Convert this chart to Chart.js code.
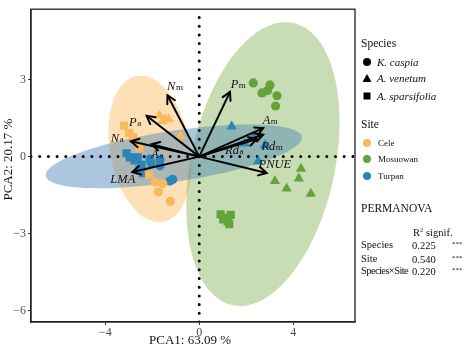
<!DOCTYPE html>
<html>
<head>
<meta charset="utf-8">
<script src="https://cdn.jsdelivr.net/npm/chart.js@4.4.0/dist/chart.umd.min.js"></script>
<style>
  body { margin: 0; background: #fff; }
  #wrap { position: relative; width: 474px; height: 350px; font-family: "Liberation Serif", "Times New Roman", serif; color: #111; }
  #chart { position: absolute; left: 0; top: 0; }
  .lg { position: absolute; white-space: nowrap; line-height: 1; transform: translateY(-50%); }
  .sym { position: absolute; }
</style>
</head>
<body>
<div id="wrap">
  <canvas id="chart" width="474" height="350"></canvas>
  <div id="legend"></div>
</div>
<script>
const serif = '"Liberation Serif", "Times New Roman", serif'

// axis ranges and ticks
const xMin = -7.16, xMax = 6.63
const yMin = -6.44, yMax = 5.74
const xTicks = [-4, 0, 4]
const yTicks = [-6, -3, 0, 3]
const xTitle = 'PCA1: 63.09 %'
const yTitle = 'PCA2: 20.17 %'

// sites and species
const sites = ['Cele', 'Mosuowan', 'Turpan']
const siteColors = ['#F9B95C', '#66A23A', '#2A85B8']
const species = ['K. caspia', 'A. venetum', 'A. sparsifolia']

// sample scores (PCA1, PCA2)
const celeCaspia = [[-1.87, -0.99], [-1.74, -1.37], [-1.23, -1.74], [-1.55, -1.05]]
const celeVenetum = [[-1.70, 1.60], [-1.46, 1.47], [-1.58, 1.38], [-1.30, 1.45], [-0.80, 0.80]]
const celeSparsifolia = [[-3.20, 1.21], [-2.98, 0.92], [-2.81, 0.76], [-2.14, -0.70], [-2.55, 0.35]]
const mosuowanCaspia = [[2.30, 2.87], [3.01, 2.79], [2.91, 2.57], [2.67, 2.48], [3.31, 2.37], [3.25, 1.97]]
const mosuowanVenetum = [[4.33, -0.47], [4.24, -0.85], [3.22, -0.95], [3.72, -1.24], [4.75, -1.45]]
const mosuowanSparsifolia = [[0.91, -2.25], [1.34, -2.27], [1.02, -2.44], [1.21, -2.52], [1.28, -2.63], [1.12, -2.38]]
const turpanCaspia = [[-2.10, -0.09], [-1.67, -0.13], [-1.67, -0.36], [-1.25, -0.95], [-1.13, -0.89], [-2.05, -0.25]]
const turpanVenetum = [[1.38, 1.17], [1.94, 0.51], [2.30, 0.76], [2.51, -0.19], [2.80, 0.44]]
const turpanSparsifolia = [[-3.09, 0.13], [-2.95, -0.03], [-2.62, -0.03], [-2.45, -0.32], [-2.38, -0.64], [-2.75, -0.15], [-2.55, -0.50]]

// confidence ellipses per site: centre, two semi-axis vectors
const ellipseCentres = [[-2.10, 0.30], [2.71, -0.29], [-1.08, 0.01]]
const ellipseMajor = [[-0.55, 2.84], [1.28, 5.50], [5.45, 0.76]]
const ellipseMinor = [[1.68, 0.26], [3.00, -0.56], [0.17, -0.98]]

// trait loadings
const traitMain = ['N', 'P', 'P', 'N', 'A', 'LMA', 'A', 'Rd', 'Rd', 'PNUE']
const traitSub = ['m', 'm', 'a', 'a', 'a', '', 'm', 'm', 'a', '']
const traitEnds = [[-1.35, 2.39], [1.31, 2.52], [-2.24, 1.59], [-2.91, 0.60], [-2.03, 0.48], [-2.85, -0.60], [2.72, 1.11], [2.72, 0.85], [2.45, 0.68], [2.87, -0.64]]
const traitLabelAt = [[-1.04, 2.72], [1.65, 2.80], [-2.74, 1.31], [-3.50, 0.70], [-1.80, 0.09], [-3.25, -0.90], [3.01, 1.39], [3.09, 0.40], [1.48, 0.24], [3.22, -0.33]]

// PERMANOVA table
const permTerms = ['Species', 'Site', 'Species\u00d7Site']
const permR2 = ['0.225', '0.540', '0.220']
const permSig = ['***', '***', '***']

const toPts = arr => arr.map(p => ({ x: p[0], y: p[1] }))

const pointSets = [
  [celeCaspia, 0, 'circle'], [celeVenetum, 0, 'triangle'], [celeSparsifolia, 0, 'rect'],
  [mosuowanCaspia, 1, 'circle'], [mosuowanVenetum, 1, 'triangle'], [mosuowanSparsifolia, 1, 'rect'],
  [turpanCaspia, 2, 'circle'], [turpanVenetum, 2, 'triangle'], [turpanSparsifolia, 2, 'rect']
]
const radiusFor = { circle: 4.6, triangle: 6, rect: 5.8 }

const datasets = []
traitEnds.forEach(e => {
  datasets.push({ data: toPts([[0, 0], e]), showLine: true, borderColor: '#000', borderWidth: 2, pointRadius: 0, order: 0 })
})
pointSets.forEach(([arr, s, style]) => {
  datasets.push({
    data: toPts(arr), pointStyle: style, pointRadius: radiusFor[style], pointBorderWidth: 0,
    backgroundColor: siteColors[s], borderColor: siteColors[s], order: 1
  })
})
datasets.push({ data: toPts([[0, yMin], [0, yMax]]), showLine: true, borderColor: '#000', borderWidth: 3, borderDash: [0, 8.7], borderCapStyle: 'round', pointRadius: 0, order: 2 })
datasets.push({ data: toPts([[xMin, 0], [xMax, 0]]), showLine: true, borderColor: '#000', borderWidth: 3, borderDash: [0, 8.7], borderCapStyle: 'round', pointRadius: 0, order: 2 })

const ellipsePlugin = {
  id: 'ellipses',
  beforeDatasetsDraw(chart) {
    const { ctx, chartArea, scales: { x, y } } = chart
    ctx.save()
    ctx.beginPath()
    ctx.rect(chartArea.left, chartArea.top, chartArea.width, chartArea.height)
    ctx.clip()
    const fills = ['rgba(252,186,95,0.45)', 'rgba(120,170,70,0.40)', 'rgba(70,130,180,0.45)']
    ellipseCentres.forEach((c, i) => {
      const u = ellipseMajor[i], v = ellipseMinor[i]
      ctx.beginPath()
      for (let k = 0; k <= 90; k++) {
        const t = k / 90 * Math.PI * 2
        const px = x.getPixelForValue(c[0] + u[0] * Math.cos(t) + v[0] * Math.sin(t))
        const py = y.getPixelForValue(c[1] + u[1] * Math.cos(t) + v[1] * Math.sin(t))
        if (k) ctx.lineTo(px, py); else ctx.moveTo(px, py)
      }
      ctx.closePath()
      ctx.fillStyle = fills[i]
      ctx.fill()
    })
    ctx.restore()
  }
}

const arrowPlugin = {
  id: 'arrows',
  afterDatasetsDraw(chart) {
    const { ctx, scales: { x, y } } = chart
    const ox = x.getPixelForValue(0), oy = y.getPixelForValue(0)
    ctx.save()
    ctx.strokeStyle = '#000'
    ctx.lineWidth = 2
    ctx.lineCap = 'round'
    traitEnds.forEach(e => {
      const ex = x.getPixelForValue(e[0]), ey = y.getPixelForValue(e[1])
      const a = Math.atan2(ey - oy, ex - ox)
      const len = 9, spread = 0.5
      ctx.beginPath()
      ctx.moveTo(ex - len * Math.cos(a - spread), ey - len * Math.sin(a - spread))
      ctx.lineTo(ex, ey)
      ctx.lineTo(ex - len * Math.cos(a + spread), ey - len * Math.sin(a + spread))
      ctx.stroke()
    })
    // trait labels
    ctx.fillStyle = '#111'
    ctx.textBaseline = 'middle'
    ctx.textAlign = 'left'
    traitMain.forEach((m, i) => {
      const lx = x.getPixelForValue(traitLabelAt[i][0]), ly = y.getPixelForValue(traitLabelAt[i][1])
      ctx.font = 'italic 12.5px ' + serif
      const w1 = ctx.measureText(m).width
      ctx.font = '9px ' + serif
      const w2 = ctx.measureText(traitSub[i]).width
      const left = lx - (w1 + w2) / 2
      ctx.font = 'italic 12.5px ' + serif
      ctx.fillText(m, left, ly)
      ctx.font = '9px ' + serif
      ctx.fillText(traitSub[i], left + w1 + 0.5, ly + 1)
    })
    ctx.restore()
  }
}

const framePlugin = {
  id: 'frame',
  afterDraw(chart) {
    const { ctx, chartArea } = chart
    ctx.save()
    ctx.strokeStyle = '#222'
    ctx.lineWidth = 1.3
    ctx.strokeRect(chartArea.left, chartArea.top, chartArea.width, chartArea.height)
    ctx.fillStyle = '#111'
    ctx.font = '13px ' + serif
    ctx.textAlign = 'center'
    ctx.textBaseline = 'middle'
    ctx.fillText(xTitle, (chartArea.left + chartArea.right) / 2 - 3, 341)
    ctx.translate(9, (chartArea.top + chartArea.bottom) / 2 - 6)
    ctx.rotate(-Math.PI / 2)
    ctx.fillText(yTitle, 0, 0)
    ctx.restore()
  }
}

const tickText = v => String(v).replace('-', '\u2212')

new Chart(document.getElementById('chart'), {
  type: 'scatter',
  data: { datasets },
  options: {
    responsive: false,
    animation: false,
    layout: { padding: { top: 3, right: 119, left: 0, bottom: 0 } },
    plugins: { legend: { display: false }, tooltip: { enabled: false } },
    scales: {
      x: {
        type: 'linear', min: xMin, max: xMax,
        afterBuildTicks: a => { a.ticks = xTicks.map(v => ({ value: v })) },
        afterFit: s => { s.height = 28 },
        grid: { drawOnChartArea: false, drawTicks: true, tickLength: 3, color: '#333' },
        border: { display: true, color: '#222', width: 1.3 },
        ticks: { font: { family: serif, size: 12 }, color: '#4d4d4d', padding: 1, callback: tickText }
      },
      y: {
        type: 'linear', min: yMin, max: yMax,
        afterBuildTicks: a => { a.ticks = yTicks.map(v => ({ value: v })) },
        afterFit: s => { s.width = 31 },
        grid: { drawOnChartArea: false, drawTicks: true, tickLength: 3, color: '#333' },
        border: { display: true, color: '#222', width: 1.3 },
        ticks: { font: { family: serif, size: 12 }, color: '#4d4d4d', padding: 2, callback: tickText }
      }
    }
  },
  plugins: [ellipsePlugin, arrowPlugin, framePlugin]
})

// legend, built as html text
const legend = document.getElementById('legend')
function addText(txt, left, top, size, extra) {
  const d = document.createElement('div')
  d.className = 'lg'
  d.style.left = left + 'px'
  d.style.top = top + 'px'
  d.style.fontSize = size + 'px'
  if (extra) Object.assign(d.style, extra)
  d.innerHTML = txt
  legend.appendChild(d)
}
function addSymbol(shape, cx, cy, color) {
  const s = 10
  const svg = document.createElementNS('http://www.w3.org/2000/svg', 'svg')
  svg.setAttribute('class', 'sym')
  svg.setAttribute('width', s)
  svg.setAttribute('height', s)
  svg.style.left = (cx - s / 2) + 'px'
  svg.style.top = (cy - s / 2) + 'px'
  let el
  if (shape === 'circle') {
    el = document.createElementNS(svg.namespaceURI, 'circle')
    el.setAttribute('cx', 5); el.setAttribute('cy', 5); el.setAttribute('r', 4)
  } else if (shape === 'triangle') {
    el = document.createElementNS(svg.namespaceURI, 'polygon')
    el.setAttribute('points', '5,1 9.5,9 0.5,9')
  } else {
    el = document.createElementNS(svg.namespaceURI, 'rect')
    el.setAttribute('x', 1.5); el.setAttribute('y', 1.5); el.setAttribute('width', 7); el.setAttribute('height', 7)
  }
  el.setAttribute('fill', color)
  svg.appendChild(el)
  legend.appendChild(svg)
}

addText('Species', 361, 44, 11.5)
const speciesRows = [62, 78, 96]
const shapes = ['circle', 'triangle', 'rect']
species.forEach((sp, i) => {
  addSymbol(shapes[i], 367, speciesRows[i], '#000')
  addText(sp, 377, speciesRows[i], 11, { fontStyle: 'italic' })
})
addText('Site', 361, 125, 11.5)
const siteRows = [143, 159, 176]
sites.forEach((st, i) => {
  addSymbol('circle', 367, siteRows[i], siteColors[i])
  addText(st, 378, siteRows[i], 9)
})
addText('PERMANOVA', 361, 209, 11.5)
addText('R<sup style="font-size:6px;vertical-align:4px">2</sup>', 413, 233, 10.5)
addText('signif.', 426, 233, 10.5)
const permRows = [245, 259, 271]
permTerms.forEach((t, i) => {
  addText(t, 361, permRows[i], 10.5, { letterSpacing: t.length > 8 ? '-0.6px' : '0' })
  addText(permR2[i], 412, permRows[i] + 1, 10.5)
  addText(permSig[i], 452, permRows[i] - 1, 7)
})
</script>
</body>
</html>
